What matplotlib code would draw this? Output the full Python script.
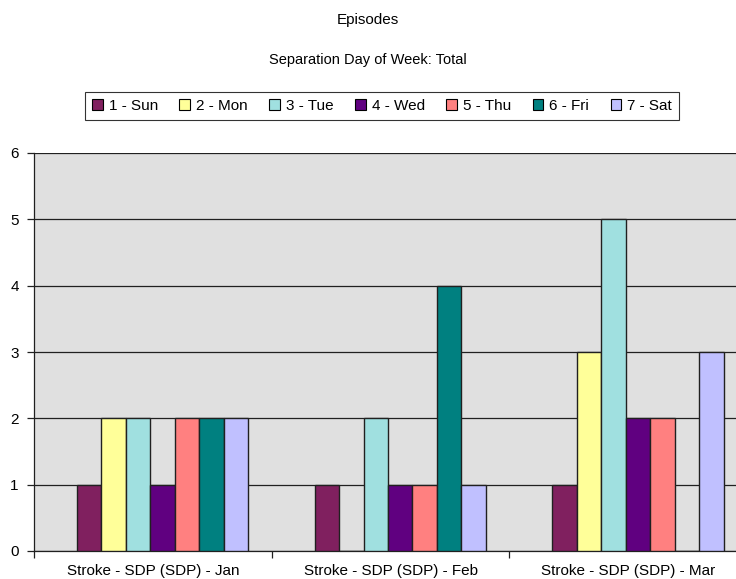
import matplotlib
matplotlib.use("Agg")
import matplotlib.pyplot as plt
from matplotlib.patches import Patch
import numpy as np

plt.rcParams['font.family'] = ['Liberation Sans', 'DejaVu Sans']

categories = ["Stroke - SDP (SDP) - Jan", "Stroke - SDP (SDP) - Feb", "Stroke - SDP (SDP) - Mar"]
series_names = ["1 - Sun", "2 - Mon", "3 - Tue", "4 - Wed", "5 - Thu", "6 - Fri", "7 - Sat"]
sun = [1, 1, 1]
mon = [2, 0, 3]
tue = [2, 2, 5]
wed = [1, 1, 2]
thu = [2, 1, 2]
fri = [2, 4, 0]
sat = [2, 1, 3]
series_values = [sun, mon, tue, wed, thu, fri, sat]
colors = ["#80205F", "#FFFF99", "#A0E0E0", "#600080", "#FF8080", "#008080", "#C0C0FF"]

fig = plt.figure(figsize=(7.36, 5.79), dpi=100)
ax = fig.add_axes([34/736, (579-551)/579, (747-34)/736, (551-153)/579])
ax.set_facecolor("#E0E0E0")

bw = 24.5/238
first = 43/238
x = np.arange(len(categories))
for i, (name, vals, c) in enumerate(zip(series_names, series_values, colors)):
    ax.bar(x + first + i*bw, vals, width=bw, align='edge', color=c,
           edgecolor='#202020', linewidth=1.0, label=name, zorder=3)

ax.set_xlim(0, 3)
ax.set_ylim(0, 6)
ax.set_yticks(range(7))
ax.yaxis.grid(True, color='#202020', linewidth=0.9, zorder=1)
ax.set_axisbelow(True)
ax.set_xticks([0, 1, 2, 3])
ax.set_xticklabels([])
ax.set_xticks(x + 0.5, minor=True)
ax.set_xticklabels(categories, minor=True, fontsize=11)
ax.tick_params(axis='x', which='minor', length=0, pad=9)
ax.tick_params(axis='x', which='major', length=5, width=0.9, direction='out', color='#202020')
ax.tick_params(axis='y', length=5, width=0.9, labelsize=11, pad=6, color='#202020')
for s in ['top', 'right']:
    ax.spines[s].set_visible(False)
ax.spines['left'].set_linewidth(0.9)
ax.spines['bottom'].set_linewidth(0.9)
ax.spines['left'].set_color('#202020')
ax.spines['bottom'].set_color('#202020')

fig.text(368/736, 1 - 20/579, "Episodes", ha='center', va='center', fontsize=11)
fig.text(368/736, 1 - 60/579, "Separation Day of Week: Total", ha='center', va='center', fontsize=10.5)

handles = [Patch(facecolor=c, edgecolor='black', linewidth=0.8) for c in colors]
leg = fig.legend(handles, series_names, loc='center', bbox_to_anchor=(382/736, 1 - 106/579),
                 ncol=7, fontsize=11, frameon=True, fancybox=False, edgecolor='black',
                 handlelength=0.7, handleheight=0.7, handletextpad=0.4, columnspacing=1.4,
                 borderpad=0.45, borderaxespad=0)
leg.get_frame().set_linewidth(0.8)

fig.savefig("out.png", dpi=100)
